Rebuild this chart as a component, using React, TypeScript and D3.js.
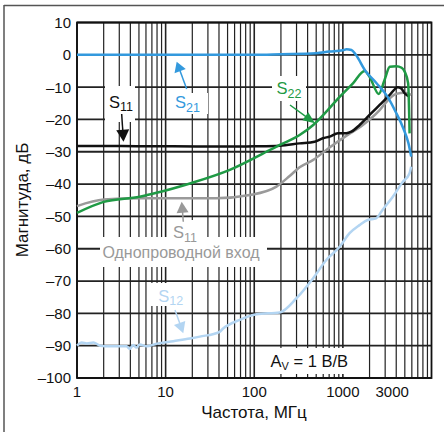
import React from 'react';
import * as d3 from 'd3';

const W = 444;
const H = 432;
const PLOT = { left: 77, right: 431.5, top: 22.5, bottom: 378 };

const xTickValues = [1, 10, 100, 1000, 3000];
const xTickLabels = ['1', '10', '100', '1000', '3000'];
const yTickValues = [10, 0, -10, -20, -30, -40, -50, -60, -70, -80, -90, -100];

// S21 (blue)
const s21Freq = [1, 10, 100, 200, 500, 700, 1000, 1100, 1250, 1400, 1800, 2400, 3200, 4000, 4800, 5500, 5900];
const s21Db = [0, 0, 0, 0.2, 0.5, 1.0, 1.4, 1.7, 1.5, 0, -5, -8.8, -13, -18, -22.7, -27.4, -31.5];

// S11 differential (black)
const s11Freq = [1, 2, 5, 10, 50, 100, 194, 325, 480, 595, 710, 880, 1093, 1245, 1545, 2000, 2600, 3380, 4170, 4560, 4980, 5660];
const s11Db = [-28.2, -28.2, -28.3, -28.3, -28.4, -28.3, -28.1, -27.4, -26.9, -25.8, -25.3, -24.3, -24.3, -23.8, -21.7, -18.6, -15.5, -12.4, -10, -10.4, -11.9, -13];

// S11 single-ended input (gray)
const s11seFreq = [1, 2, 5, 37, 89, 178, 251, 325, 463, 714, 1100, 1680, 2600, 3360, 4000, 4980, 5900];
const s11seDb = [-46.8, -44.8, -44.4, -44.4, -43.4, -40.8, -37.5, -34.8, -32.5, -28.6, -25, -21.7, -17.1, -13.5, -12.1, -11.7, -12.4];

// S22 (green)
const s22Freq = [1, 2, 5.1, 7.9, 18.8, 53, 149, 194, 325, 463, 650, 920, 1300, 1760, 2000, 2540, 2960, 3380, 4000, 4600, 4980, 5450, 5660];
const s22Db = [-48.9, -45.5, -43.9, -42.7, -39.8, -35.6, -29.5, -27.9, -24.8, -21.7, -17.6, -13, -8.8, -5, -6.8, -12.1, -7.7, -3.7, -3.5, -4, -5.2, -8.8, -24.3];

// S12 (light blue)
const s12Freq = [1, 1.13, 1.29, 1.53, 1.82, 2.35, 3.63, 3.95, 4.3, 4.7, 5.1, 6.1, 7.9, 12.2, 18.8, 24.3, 40.7, 44.5, 68.7, 106, 194, 300, 460, 650, 920, 1190, 1540, 1900, 2370, 2800, 3660, 4750, 5640, 5900];
const s12Db = [-90, -89, -89.3, -89, -90, -90.2, -90.2, -91, -89.8, -90.6, -89.6, -90.2, -89.4, -88.6, -87.8, -87.2, -85.7, -84.7, -82, -80.3, -79.7, -75.3, -69.2, -63.5, -59.4, -55.2, -52.7, -51.1, -50.6, -48, -43.9, -39.3, -36.7, -34.6];

const FONT = '"Liberation Sans", Arial, Helvetica, sans-serif';

const x = d3.scaleLog().domain([1, 10000]).range([PLOT.left, PLOT.right]);
const y = d3.scaleLinear().domain([-100, 10]).range([PLOT.bottom, PLOT.top]);

const lineGen = d3
  .line<[number, number]>()
  .x((d) => x(d[0]))
  .y((d) => y(d[1]))
  .curve(d3.curveMonotoneX);

const toPath = (f: number[], v: number[]) => lineGen(f.map((fi, i) => [fi, v[i]] as [number, number])) || '';

function Arrow({ x1, y1, x2, y2, color, len = 11, wid = 12, sw = 1.5 }: any) {
  const dx = x2 - x1;
  const dy = y2 - y1;
  const L = Math.sqrt(dx * dx + dy * dy);
  const ux = dx / L;
  const uy = dy / L;
  const bx = x2 - ux * len;
  const by = y2 - uy * len;
  const px = -uy;
  const py = ux;
  const pts = `${x2},${y2} ${bx + (px * wid) / 2},${by + (py * wid) / 2} ${bx - (px * wid) / 2},${by - (py * wid) / 2}`;
  return (
    <g>
      <line x1={x1} y1={y1} x2={bx + ux * 2} y2={by + uy * 2} stroke={color} strokeWidth={sw} />
      <polygon points={pts} fill={color} />
    </g>
  );
}

function SubLabel({ x: lx, y: ly, main, sub, color, size = 16.5, subSize = 12.5, dy = 3.5, rest }: any) {
  return (
    <text x={lx} y={ly} fill={color} fontSize={size} fontFamily={FONT}>
      {main}
      <tspan fontSize={subSize} dy={dy}>
        {sub}
      </tspan>
      {rest ? <tspan dy={-dy} fontSize={size}>{rest}</tspan> : null}
    </text>
  );
}

export default function App() {
  const vLines: { v: number; major: boolean }[] = [];
  for (let d = 1; d < 10000; d *= 10) {
    for (let m = 1; m < 10; m++) vLines.push({ v: d * m, major: m === 1 });
  }

  const boxes = [
    { x: 105, y: 86, w: 30, h: 36 },
    { x: 172, y: 93, w: 36, h: 21 },
    { x: 272, y: 76, w: 34, h: 25 },
    { x: 170, y: 220, w: 30, h: 24 },
    { x: 100, y: 237, w: 167, h: 30 },
    { x: 149, y: 283, w: 39, h: 23 },
    { x: 257, y: 348, w: 107, h: 26 },
  ];

  return (
    <svg width={W} height={H} style={{ position: 'absolute', left: 0, top: 0, background: '#fff' }}>
      <rect x={0} y={0} width={W} height={H} fill="#fff" />
      {/* outer frame */}
      <line x1={4} y1={5.5} x2={W} y2={5.5} stroke="#555" strokeWidth={1.5} />
      <line x1={4} y1={5} x2={4} y2={H} stroke="#555" strokeWidth={1.5} />

      {/* grid */}
      {vLines.map((l, i) => (
        <line
          key={'v' + i}
          x1={x(l.v)}
          x2={x(l.v)}
          y1={PLOT.top}
          y2={PLOT.bottom}
          stroke="#222"
          strokeWidth={l.major ? 1.6 : 1.2}
        />
      ))}
      {yTickValues.map((v) => (
        <line key={'h' + v} x1={PLOT.left} x2={PLOT.right} y1={y(v)} y2={y(v)} stroke="#222" strokeWidth={1.8} />
      ))}

      {/* label boxes */}
      {boxes.map((b, i) => (
        <rect key={'b' + i} x={b.x} y={b.y} width={b.w} height={b.h} fill="#fff" />
      ))}

      <rect
        x={PLOT.left}
        y={PLOT.top}
        width={PLOT.right - PLOT.left}
        height={PLOT.bottom - PLOT.top}
        fill="none"
        stroke="#111"
        strokeWidth={1.8}
      />

      {/* data */}
      <path d={toPath(s12Freq, s12Db)} fill="none" stroke="#b3d5f2" strokeWidth={2.5} />
      <path d={toPath(s11seFreq, s11seDb)} fill="none" stroke="#9a9a9a" strokeWidth={2.5} />
      <path d={toPath(s11Freq, s11Db)} fill="none" stroke="#111" strokeWidth={2.5} />
      <path d={toPath(s22Freq, s22Db)} fill="none" stroke="#1f9a45" strokeWidth={2.5} />
      <path d={toPath(s21Freq, s21Db)} fill="none" stroke="#3399dd" strokeWidth={2.5} />

      {/* y tick labels */}
      {yTickValues.map((v) => (
        <text
          key={'yl' + v}
          x={71}
          y={y(v)}
          dy="0.36em"
          textAnchor="end"
          fontSize={15}
          fontFamily={FONT}
          fill="#111"
        >
          {v < 0 ? '–' + Math.abs(v) : String(v)}
        </text>
      ))}
      {/* x tick labels */}
      {xTickValues.map((v, i) => (
        <text
          key={'xl' + v}
          x={x(v) + (v === 3000 ? 7 : 0)}
          y={396.5}
          textAnchor="middle"
          fontSize={15}
          fontFamily={FONT}
          fill="#111"
        >
          {xTickLabels[i]}
        </text>
      ))}

      {/* axis titles */}
      <text x={254} y={418} textAnchor="middle" fontSize={17} fontFamily={FONT} fill="#111">
        Частота, МГц
      </text>
      <text
        transform={`translate(28,200) rotate(-90)`}
        textAnchor="middle"
        fontSize={17}
        fontFamily={FONT}
        fill="#111"
      >
        Магнитуда, дБ
      </text>

      {/* annotations */}
      <SubLabel x={109} y={107.5} main="S" sub="11" color="#111" />
      <Arrow x1={121.7} y1={114} x2={123.5} y2={141.7} color="#111" len={12} wid={13} />

      <SubLabel x={175} y={108.3} main="S" sub="21" color="#3399dd" />
      <Arrow x1={186.7} y1={89} x2={176.7} y2={61.7} color="#3399dd" len={10} wid={12} />

      <SubLabel x={276.5} y={94.3} main="S" sub="22" color="#1f9a45" />
      <Arrow x1={290} y1={105} x2={315} y2={123.3} color="#1f9a45" len={12} wid={10} />

      <SubLabel x={173} y={238.3} main="S" sub="11" color="#999" />
      <Arrow x1={183.3} y1={221.7} x2={181.7} y2={201.7} color="#999" len={11} wid={12} />
      <text x={181} y={258.3} textAnchor="middle" fontSize={16} fontFamily={FONT} fill="#999">
        Однопроводной вход
      </text>

      <SubLabel x={158.3} y={301.5} main="S" sub="12" color="#b3d5f2" />
      <Arrow x1={175} y1={310} x2={183.3} y2={333.3} color="#b3d5f2" len={11} wid={12} />

      <SubLabel x={270.5} y={366.7} main="A" sub="V" color="#111" size={16.5} subSize={11} dy={3} rest=" = 1 В/В" />
    </svg>
  );
}
